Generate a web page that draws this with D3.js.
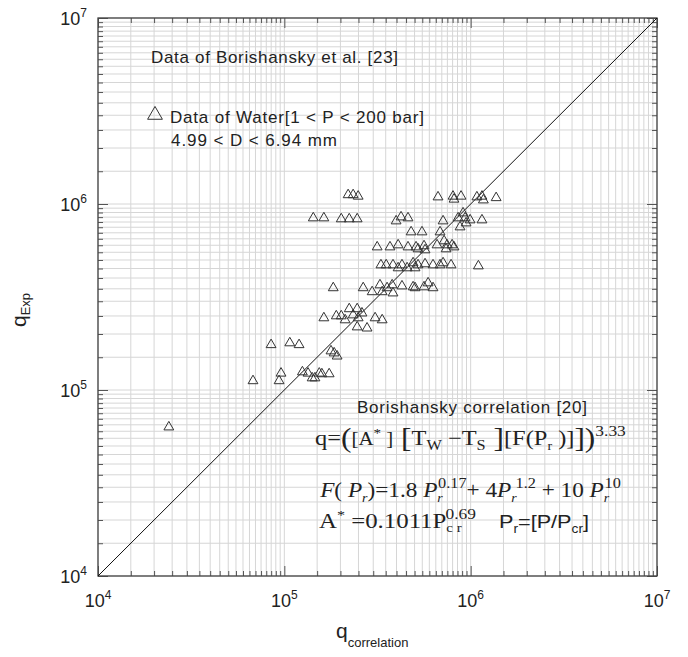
<!DOCTYPE html>
<html lang="en">
<head>
<meta charset="UTF-8">
<title>Borishansky data vs correlation</title>
<style>
  body { margin: 0; background: #fff; }
  .sans { font-family: "Liberation Sans", Arial, sans-serif; fill: #222; }
  .serif { font-family: "Liberation Serif", "Times New Roman", serif; fill: #222; }
  .grid line { stroke: #d6d6d6; stroke-width: 1; }
  .ticks .domain { display: none; }
  .ticks line { stroke: #555; stroke-width: 1; }
</style>
</head>
<body>
<svg id="chart" width="688" height="657"></svg>
<script src="https://d3js.org/d3.v7.min.js"></script>
<script>
// decades shown on both axes (exponents of 10)
var decadeExps = [4, 5, 6, 7];
// minor tick multipliers inside each decade
var minorSteps = [1.5, 2, 2.5, 3, 3.5, 4, 4.5, 5, 5.5, 6, 6.5, 7, 7.5, 8, 8.5, 9, 9.5];

// q_correlation (x) and q_Exp (y), W/m2
var qCorrelation = [
  2.40e4, 6.79e4, 8.49e4, 9.37e4, 9.60e4, 1.07e5, 1.20e5, 1.25e5, 1.34e5, 1.41e5,
  1.46e5, 1.54e5, 1.59e5, 1.74e5, 1.78e5, 1.85e5, 1.92e5, 1.63e5, 1.83e5, 1.90e5,
  2.02e5, 2.12e5, 2.23e5, 2.34e5, 2.46e5, 2.49e5, 2.61e5, 2.46e5, 2.78e5, 3.07e5,
  3.35e5, 2.65e5, 2.96e5, 3.26e5, 3.35e5, 3.56e5, 3.79e5, 3.83e5, 4.28e5, 4.91e5,
  5.03e5, 5.62e5, 5.91e5, 6.28e5, 3.30e5, 3.52e5, 3.83e5, 4.08e5, 4.28e5, 4.56e5,
  4.91e5, 5.03e5, 5.22e5, 5.69e5, 6.28e5, 6.85e5, 7.11e5, 7.85e5, 1.10e6, 3.15e5,
  3.69e5, 4.08e5, 4.61e5, 5.09e5, 5.22e5, 5.62e5, 5.69e5, 6.60e5, 7.20e5, 7.47e5,
  7.38e5, 7.95e5, 8.14e5, 4.79e5, 5.48e5, 6.85e5, 1.43e5, 1.63e5, 2.02e5, 2.23e5,
  2.46e5, 3.98e5, 4.23e5, 4.61e5, 7.11e5, 8.56e5, 9.10e5, 9.33e5, 9.93e5, 8.77e5,
  9.45e5, 1.15e6, 2.20e5, 2.34e5, 2.49e5, 6.68e5, 8.04e5, 8.14e5, 8.88e5, 1.08e6,
  1.15e6, 1.17e6, 1.37e6
];
var qExp = [
  6.32e4, 1.12e5, 1.75e5, 1.12e5, 1.23e5, 1.79e5, 1.75e5, 1.25e5, 1.23e5, 1.16e5,
  1.16e5, 1.23e5, 1.22e5, 1.22e5, 1.62e5, 1.58e5, 1.52e5, 2.44e5, 3.54e5, 2.50e5,
  2.50e5, 2.38e5, 2.73e5, 2.53e5, 2.73e5, 2.44e5, 2.59e5, 2.18e5, 2.15e5, 2.44e5,
  2.38e5, 3.54e5, 3.37e5, 3.67e5, 3.37e5, 3.54e5, 3.67e5, 3.32e5, 3.62e5, 3.58e5,
  3.54e5, 3.58e5, 3.76e5, 3.54e5, 4.70e5, 4.70e5, 4.70e5, 4.53e5, 4.70e5, 4.53e5,
  4.82e5, 4.53e5, 4.70e5, 4.76e5, 4.70e5, 4.70e5, 4.82e5, 4.70e5, 4.64e5, 5.87e5,
  5.87e5, 6.02e5, 5.87e5, 5.87e5, 5.73e5, 5.95e5, 5.66e5, 6.02e5, 6.33e5, 6.02e5,
  5.73e5, 6.02e5, 5.87e5, 7.07e5, 7.07e5, 7.07e5, 8.41e5, 8.41e5, 8.31e5, 8.31e5,
  8.31e5, 8.10e5, 8.51e5, 8.41e5, 8.10e5, 8.41e5, 8.94e5, 8.41e5, 8.20e5, 7.52e5,
  7.90e5, 8.20e5, 1.12e6, 1.12e6, 1.10e6, 1.09e6, 1.10e6, 1.06e6, 1.10e6, 1.09e6,
  1.10e6, 1.05e6, 1.08e6
];

var svg = d3.select("#chart"),
    margin = { top: 18, left: 98 },
    width = 559,
    height = 558,
    g = svg.append("g").attr("transform", "translate(" + margin.left + "," + margin.top + ")");

var lo = Math.pow(10, decadeExps[0]),
    hi = Math.pow(10, decadeExps[decadeExps.length - 1]);

var x = d3.scaleLog().domain([lo, hi]).range([0, width]),
    y = d3.scaleLog().domain([lo, hi]).range([height, 0]);

var majors = decadeExps.map(function(e) { return Math.pow(10, e); });
var minors = [];
majors.slice(0, -1).forEach(function(d) {
    minorSteps.forEach(function(m) { minors.push(d * m); });
});

// grid
var grid = g.append("g").attr("class", "grid");
grid.selectAll(".gx").data(minors.concat(majors)).enter().append("line")
    .attr("x1", x).attr("x2", x).attr("y1", 0).attr("y2", height);
grid.selectAll(".gy").data(minors.concat(majors)).enter().append("line")
    .attr("y1", y).attr("y2", y).attr("x1", 0).attr("x2", width);

// ticks on all four sides, pointing inward
function addTicks(axisFn, scale, tr) {
    g.append("g").attr("class", "ticks").attr("transform", tr)
        .call(axisFn(scale).tickValues(minors).tickSize(-5).tickFormat(""));
    g.append("g").attr("class", "ticks").attr("transform", tr)
        .call(axisFn(scale).tickValues(majors).tickSize(-10).tickFormat(""));
}
addTicks(d3.axisBottom, x, "translate(0," + height + ")");
addTicks(d3.axisTop, x, "translate(0,0)");
addTicks(d3.axisLeft, y, "translate(0,0)");
addTicks(d3.axisRight, y, "translate(" + width + ",0)");

g.append("rect")
    .attr("width", width).attr("height", height)
    .attr("fill", "none").attr("stroke", "#444").attr("stroke-width", 1.3);

// tick labels 10^n
decadeExps.forEach(function(e) {
    var v = Math.pow(10, e);
    var tx = g.append("text").attr("class", "sans")
        .attr("x", x(v)).attr("y", height + 31)
        .attr("text-anchor", "middle").style("font-size", "18px");
    tx.append("tspan").text("10");
    tx.append("tspan").attr("dy", -8).style("font-size", "12px").text(e);

    var ty = g.append("text").attr("class", "sans")
        .attr("x", -11).attr("y", y(v) + 7)
        .attr("text-anchor", "end").style("font-size", "18px");
    ty.append("tspan").text("10");
    ty.append("tspan").attr("dy", -8).style("font-size", "12px").text(e);
});

// axis titles
var xt = svg.append("text").attr("class", "sans").attr("x", 336).attr("y", 638).style("font-size", "21px");
xt.append("tspan").text("q");
xt.append("tspan").attr("dy", 9).style("font-size", "13px").text("correlation");

var yt = svg.append("text").attr("class", "sans")
    .attr("transform", "translate(26,327) rotate(-90)").style("font-size", "21px");
yt.append("tspan").text("q");
yt.append("tspan").attr("dy", 4).style("font-size", "13px").text("Exp");

// 1:1 line
var line = d3.line().x(function(d) { return x(d); }).y(function(d) { return y(d); });
g.append("path").attr("d", line([lo, hi]))
    .attr("fill", "none").attr("stroke", "#111").attr("stroke-width", 1);

// data points
var tri = d3.symbol().type(d3.symbolTriangle).size(42);
g.selectAll(".pt").data(d3.range(qCorrelation.length)).enter().append("path")
    .attr("class", "pt")
    .attr("d", tri)
    .attr("transform", function(i) { return "translate(" + x(qCorrelation[i]) + "," + y(qExp[i]) + ")"; })
    .attr("fill", "none").attr("stroke", "#333").attr("stroke-width", 1);

// annotations
svg.append("text").attr("class", "sans").attr("x", 151).attr("y", 63)
    .attr("textLength", 247).attr("lengthAdjust", "spacing")
    .style("font-size", "17px").text("Data of Borishansky et al. [23]");

svg.append("path").attr("d", d3.symbol().type(d3.symbolTriangle).size(95)())
    .attr("transform", "translate(155,115)")
    .attr("fill", "none").attr("stroke", "#333").attr("stroke-width", 1);
svg.append("text").attr("class", "sans").attr("x", 170).attr("y", 123)
    .attr("textLength", 254).attr("lengthAdjust", "spacing")
    .style("font-size", "17px").text("Data of Water[1 < P < 200 bar]");
svg.append("text").attr("class", "sans").attr("x", 171).attr("y", 146)
    .attr("textLength", 166).attr("lengthAdjust", "spacing")
    .style("font-size", "17px").text("4.99 < D < 6.94 mm");

svg.append("text").attr("class", "sans").attr("x", 357).attr("y", 413)
    .attr("textLength", 230).attr("lengthAdjust", "spacing")
    .style("font-size", "17px").text("Borishansky correlation [20]");

// formula: parts {t, size, s (baseline shift, + is down), i (italic), dx}
function rich(x0, y0, w, cls, base, parts) {
    var holder = svg.append("g");
    var t = holder.append("text").attr("class", cls).style("font-size", base + "px");
    var cur = 0;
    parts.forEach(function(p) {
        var s = p.s || 0;
        var ts = t.append("tspan").attr("dy", s - cur).text(p.t);
        cur = s;
        if (p.size) ts.style("font-size", p.size + "px");
        if (p.i) ts.style("font-style", "italic");
        if (p.dx) ts.attr("dx", p.dx);
    });
    var bb = t.node().getBBox();
    var sx = w / bb.width;
    holder.attr("transform", "translate(" + (x0 - bb.x * sx) + "," + y0 + ") scale(" + sx + ",1)");
}

rich(315, 445, 311, "serif", 21, [
    { t: "q=" },
    { t: "(", size: 27, s: 2 },
    { t: "[A", size: 18 },
    { t: "*", size: 13, s: -8 },
    { t: " ]", size: 18 },
    { t: " [", size: 27, s: 2 },
    { t: "T" },
    { t: "W", size: 14, s: 5 },
    { t: " \u2212T" },
    { t: "S", size: 14, s: 5 },
    { t: " ]", size: 27, s: 2 },
    { t: "[F(P" },
    { t: "r", size: 12, s: 5 },
    { t: " )]" },
    { t: "]", size: 27, s: 2 },
    { t: ")", size: 27, s: 2 },
    { t: "3.33", size: 15, s: -9 }
]);

rich(319, 497, 302, "serif", 20, [
    { t: "F", i: true },
    { t: "(" },
    { t: " P", i: true },
    { t: "r", size: 12, s: 5, i: true },
    { t: ")=1.8" },
    { t: " P", i: true },
    { t: "r", size: 12, s: 5, i: true },
    { t: "0.17", size: 14, s: -9, dx: -4 },
    { t: "+ 4" },
    { t: "P", i: true },
    { t: "r", size: 12, s: 5, i: true },
    { t: "1.2", size: 14, s: -9, dx: -1 },
    { t: " + 10 " },
    { t: "P", i: true },
    { t: "r", size: 12, s: 5, i: true },
    { t: "10", size: 14, s: -9, dx: -4 }
]);

rich(319, 528, 157, "serif", 20, [
    { t: "A" },
    { t: "*", size: 13, s: -9 },
    { t: " =0.1011P" },
    { t: "c r", size: 12, s: 4 },
    { t: "0.69", size: 14, s: -9, dx: -13 }
]);

rich(499, 528, 90, "sans", 19, [
    { t: "P" },
    { t: "r", size: 12, s: 5 },
    { t: "=[P/P" },
    { t: "cr", size: 12, s: 5 },
    { t: "]" }
]);
</script>
</body>
</html>
